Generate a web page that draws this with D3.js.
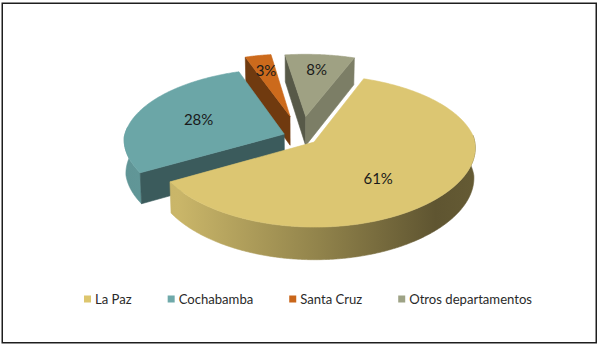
<!DOCTYPE html>
<html>
<head>
<meta charset="utf-8">
<script src="https://cdn.jsdelivr.net/npm/d3@7"></script>
<style>
  html, body { margin: 0; padding: 0; background: #fff; }
  svg { display: block; }
  text { font-family: Lato, "Open Sans", sans-serif; }
</style>
</head>
<body>
<svg id="chart" width="600" height="346"></svg>
<script>
// Distribution by department (percent)
const categories = ["La Paz", "Cochabamba", "Santa Cruz", "Otros departamentos"];
const values = [61, 28, 3, 8];
const colors = ["#DCC672", "#6BA6A7", "#CC6A1C", "#9FA183"];
const legendColors = ["#DDC66E", "#6FA9AA", "#C9661A", "#9EA386"];

// 3D pie geometry and view
const R = 160, H = 34;
const ALPHA = 27.5 * Math.PI / 180, DIST = 1227;
const X_PERSP_FRONT = 0.6;      // horizontal share of the perspective for the near half
const OX = 301, OY = 137;
const START = 20.5 * Math.PI / 180;
const explode = [17, 18, 48, 46];
const labelFrac = [0.6, 0.59, 0.73, 0.74];
const labelShift = [10, 0, 0, 0].map(d => d * Math.PI / 180);

const sa = Math.sin(ALPHA), ca = Math.cos(ALPHA);
function proj(X, Y, Z) {
  const depth = DIST + Y * ca - Z * sa;
  const yc = Y * sa + Z * ca;
  const ratio = DIST / depth;
  const kx = ratio < 1 ? ratio : 1 + (ratio - 1) * X_PERSP_FRONT;
  return [OX + X * kx, OY - DIST * yc / depth];
}

const svg = d3.select("#chart");
const defs = svg.append("defs");

// frame
svg.append("rect")
  .attr("x", 2.25).attr("y", 3.25).attr("width", 594).attr("height", 339.5)
  .attr("fill", "#fff").attr("stroke", "#1e1e1e").attr("stroke-width", 1.5);

const pie = d3.pie().sort(null).value(d => d).startAngle(START).endAngle(START + 2 * Math.PI);
const arcs = pie(values).map((a, i) => {
  const mid = (a.startAngle + a.endAngle) / 2;
  return {
    i, a0: a.startAngle, a1: a.endAngle, mid,
    ox: explode[i] * Math.sin(mid), oy: explode[i] * Math.cos(mid),
    value: a.value
  };
});

function shade(c, k) {
  const r = d3.rgb(c);
  return d3.rgb(r.r * k, r.g * k, r.b * k).formatHex();
}

// side shading: light on the left, dark on the right
arcs.forEach(s => {
  const g = defs.append("linearGradient")
    .attr("id", "side" + s.i).attr("gradientUnits", "userSpaceOnUse")
    .attr("x1", 125).attr("x2", 478).attr("y1", 0).attr("y2", 0);
  [[0, 0.9], [0.15, 0.92], [0.55, 0.66], [0.88, 0.43], [1, 0.46]].forEach(([o, k]) =>
    g.append("stop").attr("offset", o).attr("stop-color", shade(colors[s.i], k)));
});

function rim(s, a, Z) {
  return proj(s.ox + R * Math.sin(a), s.oy + R * Math.cos(a), Z);
}
function arcPts(s, a0, a1, Z) {
  const n = Math.max(2, Math.ceil(Math.abs(a1 - a0) / (Math.PI / 360)));
  return d3.range(n + 1).map(k => rim(s, a0 + (a1 - a0) * k / n, Z));
}
const path = pts => "M" + pts.map(p => p[0].toFixed(2) + "," + p[1].toFixed(2)).join("L") + "Z";

// back slices first
const order = arcs.slice().sort((p, q) => q.oy - p.oy);
const g = svg.append("g");

order.forEach(s => {
  const col = colors[s.i];
  const grp = g.append("g");
  // outer side, front-facing part only
  const lo = Math.PI * 0.47, hi = Math.PI * 1.53;
  const s0 = Math.max(s.a0, lo), s1 = Math.min(s.a1, hi);
  if (s1 > s0) {
    const pts = arcPts(s, s0, s1, 0).concat(arcPts(s, s1, s0, -H));
    grp.append("path").attr("d", path(pts))
      .attr("fill", `url(#side${s.i})`).attr("stroke", `url(#side${s.i})`).attr("stroke-width", 0.6);
  }
  const cTop = proj(s.ox, s.oy, 0), cBot = proj(s.ox, s.oy, -H);
  // radial cut faces
  if (Math.sin(s.a0) < 0.02) {
    const pts = [cTop, rim(s, s.a0, 0), rim(s, s.a0, -H), cBot];
    const c = shade(col, 0.55);
    grp.append("path").attr("d", path(pts)).attr("fill", c).attr("stroke", c).attr("stroke-width", 0.6);
  }
  if (Math.sin(s.a1) > -0.02) {
    const pts = [cTop, rim(s, s.a1, 0), rim(s, s.a1, -H), cBot];
    const c = shade(col, 0.78);
    grp.append("path").attr("d", path(pts)).attr("fill", c).attr("stroke", c).attr("stroke-width", 0.6);
  }
  // top face
  grp.append("path").attr("d", path([cTop].concat(arcPts(s, s.a0, s.a1, 0))))
    .attr("fill", col).attr("stroke", col).attr("stroke-width", 0.6);
});

// percentage labels
arcs.forEach(s => {
  const a = s.mid + labelShift[s.i];
  const r = R * labelFrac[s.i];
  const p = proj(s.ox + r * Math.sin(a), s.oy + r * Math.cos(a), 0);
  svg.append("text")
    .attr("x", p[0]).attr("y", p[1]).attr("dy", "0.36em")
    .attr("text-anchor", "middle")
    .attr("font-size", 15).attr("fill", "#1a1a1a")
    .text(d3.format(".0f")(s.value) + "%");
});

// legend
const legend = svg.append("g");
let lx = 84;
categories.forEach((name, i) => {
  legend.append("rect").attr("x", lx).attr("y", 295.5).attr("width", 7).attr("height", 7)
    .attr("fill", legendColors[i]);
  const t = legend.append("text").attr("x", lx + 11).attr("y", 303.5)
    .attr("font-size", 13.1).attr("fill", "#2a2a2a").text(name);
  lx += 11 + t.node().getComputedTextLength() + 36;
});
</script>
</body>
</html>
